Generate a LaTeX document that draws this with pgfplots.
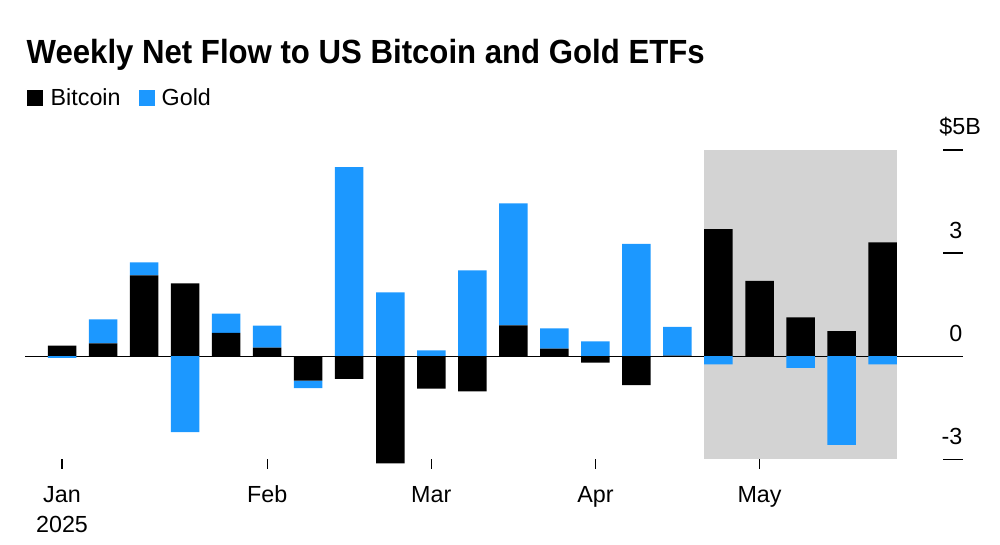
\documentclass[border=0pt]{standalone}
\usepackage{fontspec}
\setmainfont{Liberation Sans}
\newfontfamily\titlefont[FakeStretch=0.93]{Liberation Sans}
\usepackage{pgfplots}
\usepackage{pgfplotstable}
\pgfplotsset{compat=1.18}
\definecolor{btc}{RGB}{0,0,0}
\definecolor{gld}{RGB}{28,152,255}
\definecolor{shadegray}{RGB}{211,211,211}

% weekly net flows, $B (index 0 = first week of Jan 2025)
\pgfplotstableread{
idx btc gold
0 0.31 -0.05
1 0.37 0.70
2 2.35 0.38
3 2.12 -2.21
4 0.68 0.56
5 0.25 0.64
6 -0.71 -0.22
7 -0.66 5.50
8 -3.12 1.86
9 -0.94 0.17
10 -1.02 2.50
11 0.90 3.55
12 0.22 0.59
13 -0.19 0.43
14 -0.84 3.27
15 0.02 0.83
16 3.70 -0.24
17 2.19 0.00
18 1.13 -0.34
19 0.73 -2.58
20 3.31 -0.24
}\flows

\pgfplotsset{base/.style={at={(25.1bp,85.7bp)}, anchor=south west, scale only axis,
  width=937.5bp, height=309.3bp, xmin=-0.9, xmax=21.95, ymin=-3, ymax=6,
  clip=false, ybar stacked, bar width=28.5bp}}

\newcommand\lblfont{\fontsize{23.3bp}{28bp}\selectfont}

\begin{document}
\begin{tikzpicture}
\path[use as bounding box] (0bp,0bp) rectangle (1000bp,545bp);
\node[anchor=base west, inner sep=0pt] at (26.5bp,481.7bp)
  {\titlefont\bfseries\fontsize{33.5bp}{40bp}\selectfont Weekly Net Flow to US Bitcoin and Gold ETFs};

% shaded period (late April - May)
\begin{axis}[base, hide axis]
\fill[shadegray] (axis cs:15.65,-3) rectangle (axis cs:20.35,6);
\end{axis}

\begin{axis}[base,
  axis x line*=bottom, axis y line*=right,
  x axis line style={draw=none}, y axis line style={draw=none},
  xtick={0,5,9,13,17}, xticklabels={Jan,Feb,Mar,Apr,May},
  tick align=outside, major tick length=9.5bp,
  tick style={black, line width=1.2bp},
  tick label style={font=\lblfont},
  xticklabel style={anchor=base, inner sep=0pt, yshift=-33.9bp},
  ytick=\empty,
  extra y ticks={-3,0,3,6},
  extra y tick labels={-3,0,3,{\$5\rlap{B}\kern-3bp}},
  extra y tick style={tick align=inside, major tick length=19.6bp,
    yticklabel style={anchor=base east, inner sep=0pt, yshift=15bp}},
  extra x ticks={0}, extra x tick labels={2025},
  extra x tick style={major tick length=0pt, xticklabel style={yshift=-39.5bp}},
]
\addplot[fill=btc, draw=none] table[x=idx, y expr={max(\thisrow{btc},0)}] {\flows};
\addplot[fill=gld, draw=none] table[x=idx, y expr={max(\thisrow{gold},0)}] {\flows};
\end{axis}

\begin{axis}[base, hide axis]
\addplot[fill=btc, draw=none] table[x=idx, y expr={min(\thisrow{btc},0)}] {\flows};
\addplot[fill=gld, draw=none] table[x=idx, y expr={min(\thisrow{gold},0)}] {\flows};
\draw[black, line width=1.2bp] (axis cs:-0.9,0) -- (axis cs:21.95,0);
\end{axis}

\fill[btc] (27.3bp,439bp) rectangle ++(16bp,16bp);
\node[anchor=base west, inner sep=0pt, font=\lblfont] at (50.5bp,439bp) {Bitcoin};
\fill[gld] (139bp,439bp) rectangle ++(16bp,16bp);
\node[anchor=base west, inner sep=0pt, font=\lblfont] at (161.5bp,439bp) {Gold};
\end{tikzpicture}
\end{document}
